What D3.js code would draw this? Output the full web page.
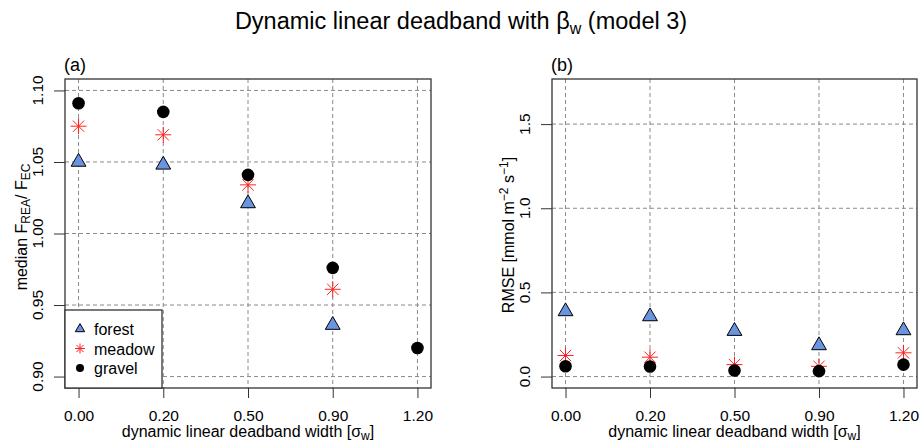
<!DOCTYPE html>
<html>
<head>
<meta charset="utf-8">
<script src="https://d3js.org/d3.v7.min.js"></script>
<style>
  body { margin: 0; background: #fff; }
  svg { display: block; font-family: "Liberation Sans", Arial, Helvetica, sans-serif; }
</style>
</head>
<body>
<svg width="922" height="441"></svg>
<script>
// categories on the x axis
const widths = ["0.00", "0.20", "0.50", "0.90", "1.20"];

// (a) median F_REA / F_EC
const forestMedian = [1.050, 1.048, 1.021, 0.936, null];
const meadowMedian = [1.075, 1.069, 1.034, 0.961, null];
const gravelMedian = [1.091, 1.085, 1.041, 0.976, 0.920];
const ticksA = [0.90, 0.95, 1.00, 1.05, 1.10];

// (b) RMSE
const forestRmse = [0.387, 0.357, 0.270, 0.185, 0.274];
const meadowRmse = [0.125, 0.115, 0.071, 0.061, 0.141];
const gravelRmse = [0.061, 0.060, 0.036, 0.032, 0.071];
const ticksB = [0.0, 0.5, 1.0, 1.5];

const sites = ["forest", "meadow", "gravel"];

let svg = d3.select("svg");

svg.append("text")
    .attr("x", 461).attr("y", 29)
    .attr("text-anchor", "middle")
    .style("font-size", "23.5px")
    .call(t => {
        t.append("tspan").text("Dynamic linear deadband with β");
        t.append("tspan").attr("dy", 5).style("font-size", "16px").text("w");
        t.append("tspan").attr("dy", -5).text(" (model 3)");
    });

function star(g, r, col, sw) {
    let d = [0, 45, 90, 135].map(a => {
        let c = Math.cos(a * Math.PI / 180) * r, s = Math.sin(a * Math.PI / 180) * r;
        return `M${-c},${-s}L${c},${s}`;
    }).join("");
    g.append("path").attr("d", d).attr("stroke", col).attr("stroke-width", sw).attr("fill", "none");
}

function marker(g, site, big) {
    if (site === "forest") {
        g.append("path")
            .attr("d", d3.symbol(d3.symbolTriangle, big ? 95 : 38)())
            .attr("fill", "#6a94e0").attr("stroke", "#000").attr("stroke-width", 1);
    } else if (site === "meadow") {
        star(g, big ? 8 : 5, "#ff2020", 1);
    } else {
        g.append("circle").attr("r", big ? 6.3 : 4).attr("fill", "#000");
    }
}

function panel(opt) {
    let x = d3.scalePoint().domain(widths).range([opt.left, opt.right]).padding(0.16);
    let y = d3.scaleLinear().domain(opt.ydom).range([opt.bottom, opt.top]);
    let g = svg.append("g");

    // grid
    g.selectAll(".hg").data(opt.ticks).enter().append("line")
        .attr("x1", opt.left).attr("x2", opt.right)
        .attr("y1", d => y(d)).attr("y2", d => y(d))
        .attr("stroke", "#8a8a8a").attr("stroke-dasharray", "4,3");
    g.selectAll(".vg").data(widths).enter().append("line")
        .attr("x1", d => x(d)).attr("x2", d => x(d))
        .attr("y1", opt.top).attr("y2", opt.bottom)
        .attr("stroke", "#8a8a8a").attr("stroke-dasharray", "4,3");

    // axes
    let ya = d3.axisLeft(y).tickValues(opt.ticks).tickFormat(d3.format(opt.fmt)).tickSize(11).tickPadding(0);
    let yg = g.append("g").attr("transform", `translate(${opt.left},0)`).call(ya);
    yg.select(".domain").remove();
    yg.selectAll("text").remove();
    g.selectAll(".ylab").data(opt.ticks).enter().append("text")
        .attr("transform", d => `translate(${opt.left - 22},${y(d)}) rotate(-90)`)
        .attr("text-anchor", "middle")
        .style("font-size", "15.5px")
        .text(d3.format(opt.fmt));

    let xa = d3.axisBottom(x).tickSize(10).tickPadding(12);
    let xg = g.append("g").attr("transform", `translate(0,${opt.bottom})`).call(xa);
    xg.select(".domain").remove();
    xg.selectAll("text").style("font-size", "15.5px").attr("fill", "#000").attr("font-family", null);
    yg.selectAll("line").attr("stroke", "#333");
    xg.selectAll("line").attr("stroke", "#333");

    g.append("rect")
        .attr("x", opt.left).attr("y", opt.top)
        .attr("width", opt.right - opt.left).attr("height", opt.bottom - opt.top)
        .attr("fill", "none").attr("stroke", "#333").attr("stroke-width", 1.3);

    // panel tag
    g.append("text").attr("x", opt.left - 1).attr("y", 71).style("font-size", "18px").text(opt.tag);

    // x title
    g.append("text")
        .attr("x", (opt.left + opt.right) / 2).attr("y", 436.5)
        .attr("text-anchor", "middle").style("font-size", "16px")
        .call(t => {
            t.append("tspan").text("dynamic linear deadband width [σ");
            t.append("tspan").attr("dy", 3).style("font-size", "12px").text("w");
            t.append("tspan").attr("dy", -3).text("]");
        });

    // y title
    g.append("text")
        .attr("transform", `translate(${opt.left - 38},${opt.ymid}) rotate(-90)`)
        .attr("text-anchor", "middle").style("font-size", "16px")
        .call(opt.ytitle);

    // points
    let series = [opt.data.forest, opt.data.meadow, opt.data.gravel];
    sites.forEach((s, k) => {
        series[k].forEach((v, i) => {
            if (v === null) return;
            let pg = g.append("g").attr("transform", `translate(${x(widths[i])},${y(v)})`);
            marker(pg, s, true);
        });
    });
    return g;
}

let ga = panel({
    left: 65, right: 431, top: 79, bottom: 388, ymid: 227,
    ydom: [0.892, 1.108], ticks: ticksA, fmt: ".2f", tag: "(a)",
    data: { forest: forestMedian, meadow: meadowMedian, gravel: gravelMedian },
    ytitle: t => {
        t.append("tspan").text("median F");
        t.append("tspan").attr("dy", 3).style("font-size", "12px").text("REA");
        t.append("tspan").attr("dy", -3).text("/ F");
        t.append("tspan").attr("dy", 3).style("font-size", "12px").text("EC");
    }
});

panel({
    left: 552, right: 917, top: 79, bottom: 388, ymid: 235,
    ydom: [-0.068, 1.768], ticks: ticksB, fmt: ".1f", tag: "(b)",
    data: { forest: forestRmse, meadow: meadowRmse, gravel: gravelRmse },
    ytitle: t => {
        t.append("tspan").text("RMSE [mmol m");
        t.append("tspan").attr("dy", -6).style("font-size", "12px").text("−2");
        t.append("tspan").attr("dy", 6).text(" s");
        t.append("tspan").attr("dy", -6).style("font-size", "12px").text("−1");
        t.append("tspan").attr("dy", 6).text("]");
    }
});

// legend in panel (a)
let lg = ga.append("g");
lg.append("rect").attr("x", 65).attr("y", 310).attr("width", 97).attr("height", 78)
    .attr("fill", "#fff").attr("stroke", "#333").attr("stroke-width", 1.3);
sites.forEach((s, k) => {
    let row = lg.append("g").attr("transform", `translate(80,${329 + k * 19.5})`);
    marker(row, s, false);
    row.append("text").attr("x", 14).attr("y", 6).style("font-size", "16px").text(s);
});
</script>
</body>
</html>
